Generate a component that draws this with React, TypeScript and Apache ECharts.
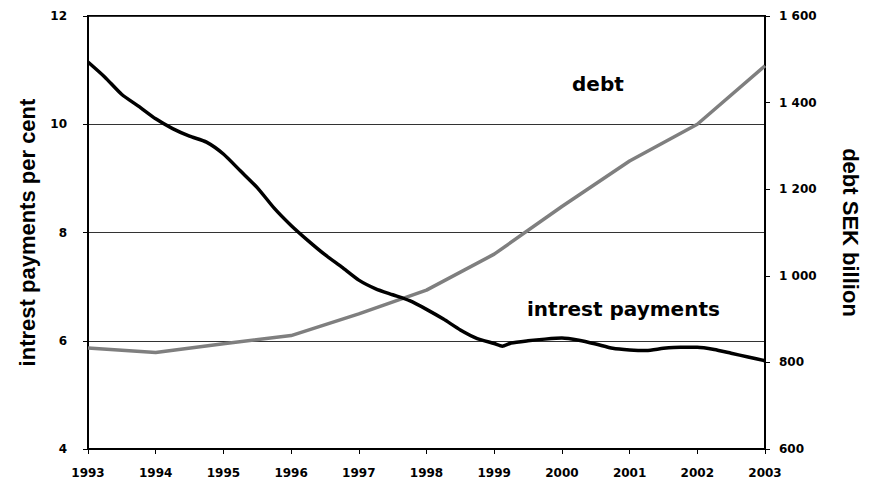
import React, { useEffect, useRef } from "react";
import * as echarts from "echarts";

// Interest payments, per cent (left axis), read quarterly-ish
const rateYears = [
  1993.0, 1993.25, 1993.5, 1993.75, 1994.0, 1994.25, 1994.5, 1994.75,
  1995.0, 1995.25, 1995.5, 1995.75, 1996.0, 1996.25, 1996.5, 1996.75,
  1997.0, 1997.25, 1997.5, 1997.75, 1998.0, 1998.25, 1998.5, 1998.75,
  1999.0, 1999.12, 1999.25, 1999.5, 1999.75, 2000.0, 2000.25, 2000.5,
  2000.75, 2001.0, 2001.25, 2001.5, 2001.75, 2002.0, 2002.25, 2002.5,
  2002.75, 2003.0,
];
const rateValues = [
  11.15, 10.87, 10.55, 10.33, 10.1, 9.92, 9.78, 9.67,
  9.45, 9.14, 8.83, 8.45, 8.13, 7.85, 7.59, 7.36,
  7.12, 6.96, 6.85, 6.74, 6.58, 6.4, 6.2, 6.04,
  5.95, 5.9, 5.96, 6.0, 6.03, 6.05, 6.01, 5.94,
  5.86, 5.83, 5.82, 5.86, 5.88, 5.88, 5.84, 5.77,
  5.7, 5.63,
];

// Debt, SEK billion (right axis), yearly
const debtYears = [1993, 1994, 1995, 1996, 1997, 1998, 1999, 2000, 2001, 2002, 2003];
const debtValues = [833, 823, 843, 862, 912, 967, 1050, 1160, 1265, 1350, 1485];

const leftTitle = "intrest payments per cent";
const rightTitle = "debt SEK billion";
const debtLabel = "debt";
const rateLabel = "intrest payments";

const tickFont = "DejaVu Sans";
const titleFont = "Liberation Sans, Arial, sans-serif";

export default function App() {
  const ref = useRef<HTMLDivElement>(null);

  useEffect(() => {
    if (!ref.current) return;
    const chart = echarts.init(ref.current, undefined, { renderer: "svg" });
    const rateData = rateYears.map((y, i) => [y, rateValues[i]]);
    const debtData = debtYears.map((y, i) => [y, debtValues[i]]);

    chart.setOption({
      animation: false,
      backgroundColor: "#ffffff",
      grid: {
        left: 75,
        right: 88,
        top: 8,
        bottom: 22,
        show: true,
        borderColor: "#000",
        borderWidth: 2,
        backgroundColor: "transparent",
      },
      xAxis: {
        type: "value",
        min: 1993,
        max: 2003,
        interval: 1,
        axisLine: { show: true, lineStyle: { color: "#000", width: 2 } },
        axisTick: { show: true, length: 5, lineStyle: { color: "#000", width: 1 } },
        splitLine: { show: false },
        axisLabel: {
          formatter: (v: number) => String(v),
          fontFamily: tickFont,
          fontWeight: "bold",
          fontSize: 12,
          color: "#000",
          margin: 18,
        },
      },
      yAxis: [
        {
          type: "value",
          position: "left",
          min: 4,
          max: 12,
          interval: 2,
          name: leftTitle,
          nameLocation: "middle",
          nameRotate: 90,
          nameGap: 50,
          nameTextStyle: {
            fontFamily: titleFont,
            fontWeight: "bold",
            fontSize: 22,
            color: "#000",
          },
          axisLine: { show: true, lineStyle: { color: "#000", width: 2 } },
          axisTick: { show: true, length: 5, lineStyle: { color: "#000", width: 1 } },
          splitLine: { show: true, lineStyle: { color: "#333", width: 1 } },
          axisLabel: {
            fontFamily: tickFont,
            fontWeight: "bold",
            fontSize: 12,
            color: "#000",
            margin: 21,
          },
        },
        {
          type: "value",
          position: "right",
          min: 600,
          max: 1600,
          interval: 200,
          name: rightTitle,
          nameLocation: "middle",
          nameRotate: -90,
          nameGap: 74,
          nameTextStyle: {
            fontFamily: titleFont,
            fontWeight: "bold",
            fontSize: 22,
            color: "#000",
          },
          axisLine: { show: true, lineStyle: { color: "#000", width: 2 } },
          axisTick: { show: true, length: 5, lineStyle: { color: "#000", width: 1 } },
          splitLine: { show: false },
          axisLabel: {
            formatter: (v: number) => String(v).replace(/\B(?=(\d{3})+(?!\d))/g, " "),
            fontFamily: tickFont,
            fontWeight: "bold",
            fontSize: 12,
            color: "#000",
            margin: 14,
          },
        },
      ],
      series: [
        {
          name: "debt",
          type: "line",
          yAxisIndex: 1,
          data: debtData,
          showSymbol: false,
          lineStyle: { color: "#7f7f7f", width: 3.5 },
          z: 3,
        },
        {
          name: "intrest payments",
          type: "line",
          yAxisIndex: 0,
          data: rateData,
          showSymbol: false,
          smooth: 0.2,
          lineStyle: { color: "#000", width: 3.5 },
          z: 4,
        },
      ],
      graphic: [
        {
          type: "text",
          left: 564,
          top: 66,
          style: {
            text: debtLabel,
            fontFamily: tickFont,
            fontWeight: "bold",
            fontSize: 20,
            fill: "#000",
          },
        },
        {
          type: "text",
          left: 519,
          top: 291,
          style: {
            text: rateLabel,
            fontFamily: tickFont,
            fontWeight: "bold",
            fontSize: 20,
            fill: "#000",
          },
        },
      ],
    });

    return () => chart.dispose();
  }, []);

  return <div ref={ref} style={{ width: 861, height: 471 }} />;
}
